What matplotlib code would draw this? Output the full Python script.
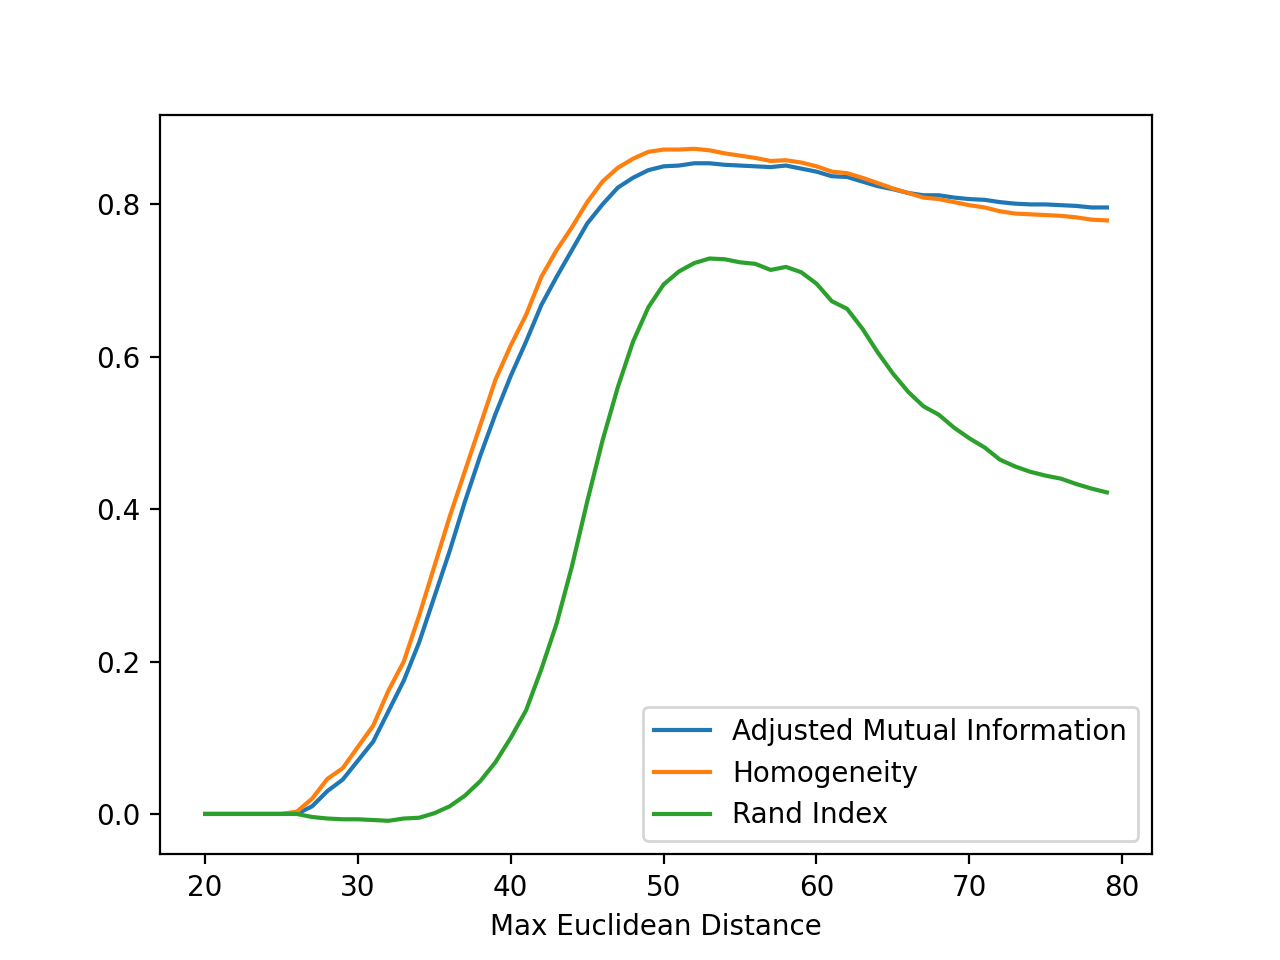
import matplotlib
matplotlib.use('Agg')
import matplotlib.pyplot as plt
import numpy as np

distances = np.arange(20, 80)

ami = [0, 0, 0, 0, 0, 0, 0, 0.01, 0.03, 0.045, 0.07, 0.095, 0.135, 0.175, 0.225,
       0.285, 0.345, 0.41, 0.47, 0.525, 0.575, 0.62, 0.668, 0.705, 0.74, 0.775,
       0.80, 0.822, 0.835, 0.845, 0.85, 0.851, 0.854, 0.854, 0.852, 0.851, 0.85,
       0.849, 0.851, 0.847, 0.843, 0.837, 0.836, 0.83, 0.824, 0.82, 0.815, 0.812,
       0.812, 0.809, 0.807, 0.806, 0.803, 0.801, 0.8, 0.8, 0.799, 0.798, 0.796, 0.796]

homogeneity = [0, 0, 0, 0, 0, 0, 0.003, 0.02, 0.046, 0.06, 0.088, 0.116, 0.162, 0.2,
               0.26, 0.325, 0.39, 0.45, 0.51, 0.57, 0.615, 0.655, 0.705, 0.74, 0.77,
               0.803, 0.83, 0.848, 0.86, 0.869, 0.872, 0.872, 0.873, 0.871, 0.867,
               0.864, 0.861, 0.857, 0.858, 0.855, 0.85, 0.843, 0.841, 0.835, 0.828,
               0.821, 0.815, 0.809, 0.807, 0.803, 0.799, 0.796, 0.791, 0.788, 0.787,
               0.786, 0.785, 0.783, 0.78, 0.779]

rand_index = [0, 0, 0, 0, 0, 0, 0, -0.004, -0.006, -0.007, -0.007, -0.008, -0.009,
              -0.006, -0.005, 0.001, 0.01, 0.024, 0.043, 0.068, 0.1, 0.136, 0.19,
              0.25, 0.325, 0.41, 0.49, 0.56, 0.62, 0.665, 0.695, 0.712, 0.723, 0.729,
              0.728, 0.724, 0.722, 0.714, 0.718, 0.711, 0.696, 0.673, 0.663, 0.637,
              0.606, 0.578, 0.554, 0.535, 0.524, 0.507, 0.493, 0.481, 0.465, 0.456,
              0.449, 0.444, 0.44, 0.433, 0.427, 0.422]

fig, ax = plt.subplots(figsize=(6.4, 4.8), dpi=200)
ax.plot(distances, ami, label='Adjusted Mutual Information')
ax.plot(distances, homogeneity, label='Homogeneity')
ax.plot(distances, rand_index, label='Rand Index')
ax.set_xlabel('Max Euclidean Distance')
ax.legend(loc='lower right')

plt.savefig('out.png', dpi=200)
plt.close()
